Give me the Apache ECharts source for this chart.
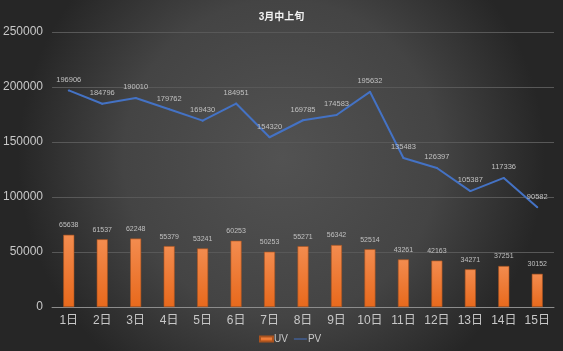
<!DOCTYPE html>
<html>
<head>
<meta charset="utf-8">
<script src="https://cdn.jsdelivr.net/npm/echarts@6/dist/echarts.min.js"></script>
<style>
  html, body { margin: 0; padding: 0; }
  #main { width: 563px; height: 351px; }
</style>
</head>
<body>
<div id="main"></div>
<script>
// 3月中上旬 每日数据
var days = ['1日','2日','3日','4日','5日','6日','7日','8日','9日','10日','11日','12日','13日','14日','15日'];
var uv = [65638, 61537, 62248, 55379, 53241, 60253, 50253, 55271, 56342, 52514, 43261, 42163, 34271, 37251, 30152];
var pv = [196906, 184796, 190010, 179762, 169430, 184951, 154320, 169785, 174583, 195632, 135483, 126397, 105387, 117336, 90582];

var chart = echarts.init(document.getElementById('main'));
var font = '"Liberation Sans", "Noto Sans CJK SC", sans-serif';

chart.setOption({
  animation: false,
  backgroundColor: {
    type: 'radial', x: 0.5, y: 0.45, r: 0.75,
    colorStops: [
      { offset: 0, color: '#525252' },
      { offset: 0.6, color: '#444444' },
      { offset: 1, color: '#262626' }
    ]
  },
  textStyle: { fontFamily: font },
  title: {
    text: '3月中上旬',
    left: 'center',
    top: 7,
    textStyle: { color: '#f2f2f2', fontSize: 10, fontWeight: 'bold', fontFamily: font }
  },
  legend: {
    bottom: 2,
    left: 254,
    itemWidth: 13,
    itemHeight: 5,
    itemGap: 6,
    textStyle: { color: '#c8c8c8', fontSize: 10, padding: [0, 0, 0, -4] },
    data: [
      { name: 'UV', icon: 'rect' },
      { name: 'PV', icon: 'path://M0,4 L20,4 L20,5.5 L0,5.5 Z', itemStyle: { color: '#4472c4' } }
    ]
  },
  grid: { left: 47, right: 9, top: 32, bottom: 44 },
  xAxis: {
    type: 'category',
    data: days,
    axisTick: { show: false },
    axisLine: { lineStyle: { color: '#8c8c8c', width: 1 } },
    axisLabel: { color: '#c8c8c8', fontSize: 12, margin: 8 }
  },
  yAxis: {
    type: 'value',
    min: 0,
    max: 250000,
    interval: 50000,
    axisLabel: { color: '#c8c8c8', fontSize: 12, margin: 9, formatter: function (v) { return String(v); } },
    splitLine: { lineStyle: { color: '#585858', width: 1 } },
    axisLine: { show: false },
    axisTick: { show: false }
  },
  series: [
    {
      name: 'UV',
      type: 'bar',
      data: uv,
      barWidth: 11,
      itemStyle: {
        color: {
          type: 'linear', x: 0, y: 0, x2: 0, y2: 1,
          colorStops: [
            { offset: 0, color: '#f38c4f' },
            { offset: 1, color: '#e8691c' }
          ]
        },
        borderColor: '#a9531f',
        borderWidth: 0.6
      },
      label: {
        show: true,
        position: 'top',
        distance: 6,
        color: '#c0c0c0',
        fontSize: 7
      }
    },
    {
      name: 'PV',
      type: 'line',
      data: pv,
      symbol: 'circle',
      symbolSize: 2,
      showSymbol: true,
      lineStyle: { color: '#4472c4', width: 2 },
      itemStyle: { color: '#4472c4' },
      label: {
        show: true,
        position: 'top',
        distance: 6,
        color: '#c0c0c0',
        fontSize: 7.5
      }
    }
  ]
});
</script>
</body>
</html>
